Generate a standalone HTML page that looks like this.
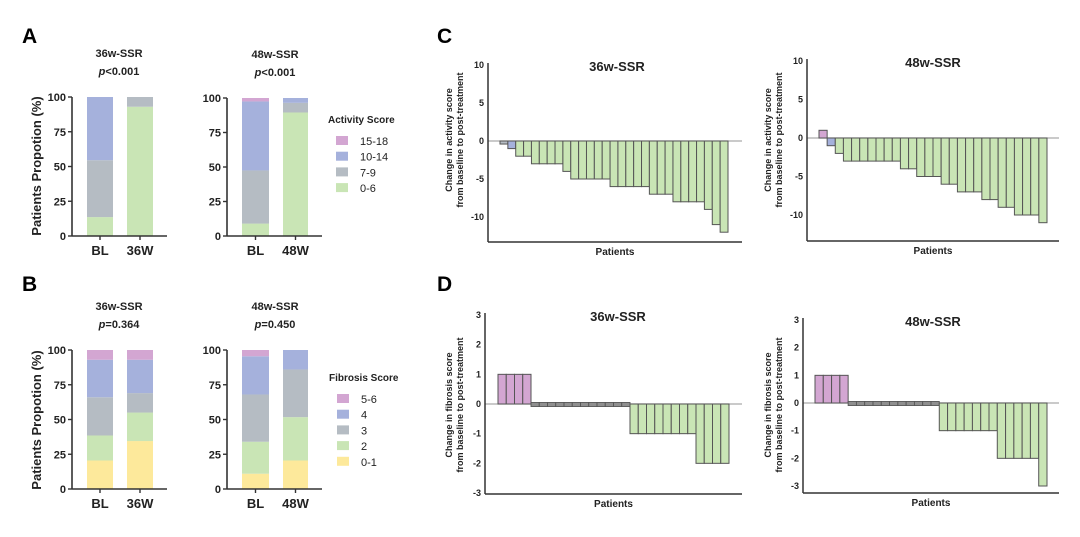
<!DOCTYPE html>
<html><head><meta charset="utf-8"><style>
html,body{margin:0;padding:0;background:#fff;}
svg{display:block;font-family:"Liberation Sans",Arial,sans-serif;}
</style></head><body>
<svg id="s" width="1080" height="537" viewBox="0 0 1080 537" xmlns="http://www.w3.org/2000/svg">
<g font-weight="bold" font-size="21" fill="#000">
<text x="22" y="43">A</text><text x="22" y="291">B</text>
<text x="437" y="43">C</text><text x="437" y="291">D</text>
</g>
</svg>
<script>
const s=document.getElementById('s');const NS='http://www.w3.org/2000/svg';
function el(t,a,txt){const e=document.createElementNS(NS,t);for(const k in a)e.setAttribute(k,a[k]);if(txt!==undefined)e.textContent=txt;s.appendChild(e);return e;}
function txt(x,y,t,o){o=o||{};return el('text',Object.assign({x:x,y:y,'font-size':o.fs||11,'font-weight':o.fw||'bold','text-anchor':o.a||'middle',fill:o.c||'#222'},o.tr?{transform:o.tr}:{}),t);}
const C={g:'#c9e5b5',gr:'#b5bcc3',b:'#a5b1dc',p:'#d3a6d2',y:'#fde99b'};
// stacked panels
function stacked(ax,y100,y0,bars,labels,t1,t2,tx){
  const h=y0-y100;
  bars.forEach((b,i)=>{let prev=0;b.segs.forEach(([v,c])=>{el('rect',{x:b.x,y:y0-v/100*h,width:b.w,height:(v-prev)/100*h,fill:C[c]});prev=v;});});
  el('line',{x1:ax,y1:y100,x2:ax,y2:y0,stroke:'#333','stroke-width':1.6});
  el('line',{x1:ax,y1:y0,x2:bars[1].x+bars[1].w+14,y2:y0,stroke:'#333','stroke-width':1.6});
  [0,25,50,75,100].forEach(v=>{const y=y0-v/100*h;el('line',{x1:ax-4,y1:y,x2:ax,y2:y,stroke:'#333','stroke-width':1.4});txt(ax-6,y+4,v,{a:'end',fs:11});});
  bars.forEach((b,i)=>{el('line',{x1:b.x+b.w/2,y1:y0,x2:b.x+b.w/2,y2:y0+4,stroke:'#333','stroke-width':1.4});txt(b.x+b.w/2,y0+19,labels[i],{fs:13});});
  txt(tx,y100-40,t1,{fs:11});
  const p=el('text',{x:tx,y:y100-22,'font-size':11,'font-weight':'bold','text-anchor':'middle',fill:'#222'});
  p.innerHTML='<tspan font-style="italic">p</tspan>'+t2;
}
stacked(72,97,236,[{x:87,w:26,segs:[[13.6,'g'],[54.5,'gr'],[100,'b']]},{x:127,w:26,segs:[[93,'g'],[100,'gr']]}],['BL','36W'],'36w-SSR','<0.001',119);
stacked(227,98,236,[{x:242,w:27,segs:[[9,'g'],[47.5,'gr'],[97.5,'b'],[100,'p']]},{x:283,w:25,segs:[[89.5,'g'],[96.5,'gr'],[100,'b']]}],['BL','48W'],'48w-SSR','<0.001',275);
stacked(72,350,489,[{x:87,w:26,segs:[[20.5,'y'],[38.5,'g'],[66,'gr'],[93,'b'],[100,'p']]},{x:127,w:26,segs:[[34.5,'y'],[55,'g'],[69,'gr'],[93,'b'],[100,'p']]}],['BL','36W'],'36w-SSR','=0.364',119);
stacked(227,350,489,[{x:242,w:27,segs:[[11,'y'],[34,'g'],[68,'gr'],[95.5,'b'],[100,'p']]},{x:283,w:25,segs:[[20.5,'y'],[51.7,'g'],[86,'gr'],[100,'b']]}],['BL','48W'],'48w-SSR','=0.450',275);
txt(41,166,'Patients Propotion (%)',{fs:13,tr:'rotate(-90 41 166)'});
txt(41,420,'Patients Propotion (%)',{fs:13,tr:'rotate(-90 41 420)'});
// legends
function legend(x,y,title,items){txt(x,y,title,{a:'start',fs:10});items.forEach(([c,l],i)=>{const yy=y+18+i*15.7;el('rect',{x:x+8,y:yy-5,width:12,height:9,fill:C[c]});txt(x+32,yy+4,l,{a:'start',fw:'normal',fs:11});});}
legend(328,123,'Activity Score',[['p','15-18'],['b','10-14'],['gr','7-9'],['g','0-6']]);
legend(329,381,'Fibrosis Score',[['p','5-6'],['b','4'],['gr','3'],['g','2'],['y','0-1']]);
// waterfall
function wf(o){
  const sc=(o.y0-o.yTop)/o.top;
  const n=o.vals.length,bw=(o.x2-o.x1)/n;
  el('line',{x1:o.ax,y1:o.y0,x2:o.xe,y2:o.y0,stroke:'#aaa','stroke-width':1.2});
  o.vals.forEach(([v,c],i)=>{const x=o.x1+i*bw;let y,h;
    if(c==='d'){y=o.y0-1.5;h=4;el('rect',{x:x,y:y,width:bw,height:h,fill:'#8f8f8f',stroke:'#555','stroke-width':0.9});return;}
    y=v>0?o.y0-v*sc:o.y0;h=Math.abs(v)*sc;
    el('rect',{x:x,y:y,width:bw,height:h,fill:C[c],stroke:'#555','stroke-width':1});});
  el('line',{x1:o.ax,y1:o.yTop-2,x2:o.ax,y2:o.yb,stroke:'#333','stroke-width':1.5});
  el('line',{x1:o.ax,y1:o.yb,x2:o.xe,y2:o.yb,stroke:'#333','stroke-width':1.5});
  o.ticks.forEach(v=>{const y=o.y0-v*sc;txt(o.ax-4,y+3,v,{a:'end',fs:9});});
  txt(o.tx,o.yTop+6,o.title,{fs:13});
  txt((o.ax+o.xe)/2,o.yb+13,'Patients',{fs:10});
  const cy=o.ly;txt(o.lx,cy,o.l1,{fs:9,tr:`rotate(-90 ${o.lx} ${cy})`});txt(o.lx+11,cy,'from baseline to post-treatment',{fs:9,tr:`rotate(-90 ${o.lx+11} ${cy})`});
}
function rep(arr){const r=[];arr.forEach(([v,c,k])=>{for(let i=0;i<k;i++)r.push([v,c]);});return r;}
wf({ax:488,y0:141,yTop:65,top:10,yb:242,xe:742,x1:500,x2:728,tx:617,title:'36w-SSR',ticks:[10,5,0,-5,-10],lx:452,ly:140,l1:'Change in activity score',
 vals:[[-0.4,'gr'],[-1,'b']].concat(rep([[-2,'g',2],[-3,'g',4],[-4,'g',1],[-5,'g',5],[-6,'g',5],[-7,'g',3],[-8,'g',4],[-9,'g',1],[-11,'g',1],[-12,'g',1]]))});
wf({ax:807,y0:138,yTop:61,top:10,yb:241,xe:1059,x1:819,x2:1047,tx:933,title:'48w-SSR',ticks:[10,5,0,-5,-10],lx:771,ly:140,l1:'Change in activity score',
 vals:[[1,'p'],[-1,'b']].concat(rep([[-2,'g',1],[-3,'g',7],[-4,'g',2],[-5,'g',3],[-6,'g',2],[-7,'g',3],[-8,'g',2],[-9,'g',2],[-10,'g',3],[-11,'g',1]]))});
wf({ax:485,y0:404,yTop:315,top:3,yb:494,xe:742,x1:498,x2:729,tx:618,title:'36w-SSR',ticks:[3,2,1,0,-1,-2,-3],lx:452,ly:405,l1:'Change in fibrosis score',
 vals:rep([[1,'p',4],[0,'d',12],[-1,'g',8],[-2,'g',4]])});
wf({ax:803,y0:403,yTop:320,top:3,yb:493,xe:1059,x1:815,x2:1047,tx:933,title:'48w-SSR',ticks:[3,2,1,0,-1,-2,-3],lx:771,ly:405,l1:'Change in fibrosis score',
 vals:rep([[1,'p',4],[0,'d',11],[-1,'g',7],[-2,'g',5],[-3,'g',1]])});
</script>
</body></html>
